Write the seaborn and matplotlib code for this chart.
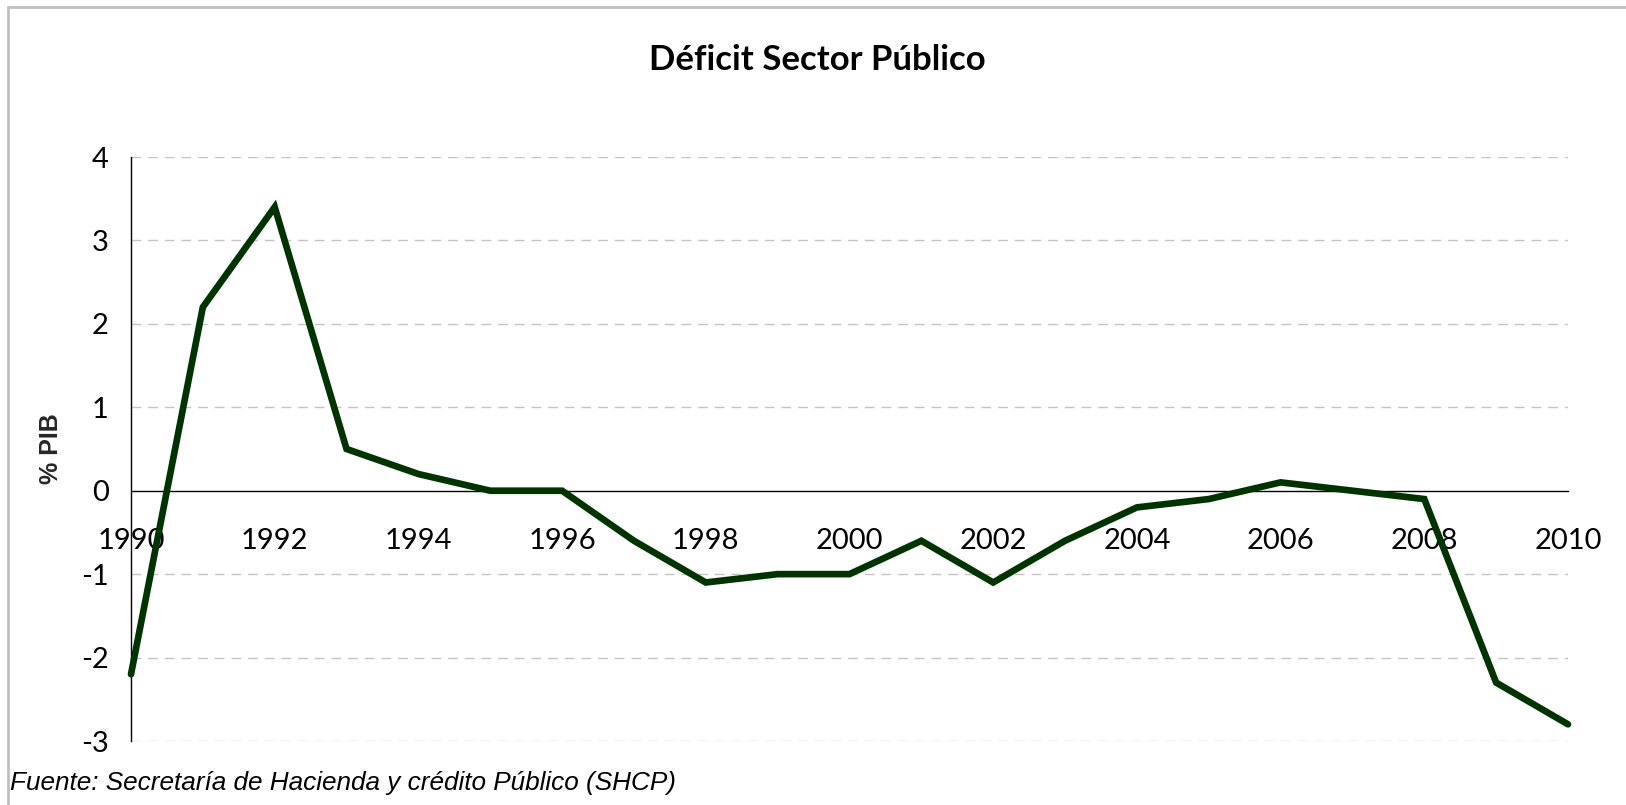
import matplotlib
matplotlib.use("Agg")
import matplotlib.pyplot as plt
import seaborn as sns
import pandas as pd

# Déficit sector público, % del PIB
years = list(range(1990, 2011))
deficit = [-2.2, 2.2, 3.4, 0.5, 0.2, 0.0, 0.0, -0.6, -1.1, -1.0, -1.0,
           -0.6, -1.1, -0.6, -0.2, -0.1, 0.1, 0.0, -0.1, -2.3, -2.8]
y_ticks = [-3, -2, -1, 0, 1, 2, 3, 4]

df = pd.DataFrame({"year": years, "deficit": deficit})

sns.set_style("white")
plt.rcParams["font.family"] = ["Lato", "DejaVu Sans"]
plt.rcParams["text.color"] = "black"
plt.rcParams["xtick.color"] = "black"
plt.rcParams["ytick.color"] = "black"

fig = plt.figure(figsize=(16.26, 8.05), dpi=100)
ax = fig.add_axes([131 / 1626, 1 - 741 / 805, (1568 - 131) / 1626, (741 - 157) / 805])

# grid (dashed, no line at 0 - the axis sits there)
for v in y_ticks:
    if v != 0:
        ax.axhline(v, color="#c4c4c4", lw=1.0, ls=(0, (7, 5)), zorder=0)

sns.lineplot(data=df, x="year", y="deficit", ax=ax, color="#013300",
             lw=4.8, solid_capstyle="round", solid_joinstyle="miter",
             zorder=3, clip_on=False)

ax.set_xlim(1990, 2010)
ax.set_ylim(-3, 4)
ax.set_yticks(y_ticks)
ax.set_yticklabels([str(v) for v in y_ticks])
ax.set_xticks(years)
ax.set_xticklabels([str(y) if y % 2 == 0 else "" for y in years])

for s in ["top", "right"]:
    ax.spines[s].set_visible(False)
ax.spines["bottom"].set_position(("data", 0))
for s in ["bottom", "left"]:
    ax.spines[s].set_color("#000000")
    ax.spines[s].set_linewidth(1.0)

ax.tick_params(axis="x", direction="out", length=8, width=1,
               labelsize=21, pad=19)
ax.tick_params(axis="y", direction="out", length=8, width=1,
               labelsize=21, pad=8)
ax.set_xlabel("")
ax.set_ylabel("% PIB", fontsize=18, fontweight="bold",
              family=["Liberation Sans", "DejaVu Sans"])
ax.yaxis.set_label_coords(-0.047, 0.5)

fig.text(817 / 1626, 1 - 60 / 805, "Déficit Sector Público", ha="center", va="center",
         fontsize=25, fontweight="bold")
fig.text(10 / 1626, 1 - 783 / 805, "Fuente: Secretaría de Hacienda y crédito Público (SHCP)",
         ha="left", va="center", fontsize=18.8, style="italic",
         family=["Liberation Sans", "DejaVu Sans"])

# frame of the chart area (top and left edges visible)
fig.add_artist(plt.Line2D([8 / 1626, 1], [1 - 7 / 805, 1 - 7 / 805],
                          transform=fig.transFigure, color="#c0c0c0", lw=2))
fig.add_artist(plt.Line2D([8 / 1626, 8 / 1626], [0, 1 - 7 / 805],
                          transform=fig.transFigure, color="#c0c0c0", lw=2))

fig.savefig("out.png", dpi=100)
